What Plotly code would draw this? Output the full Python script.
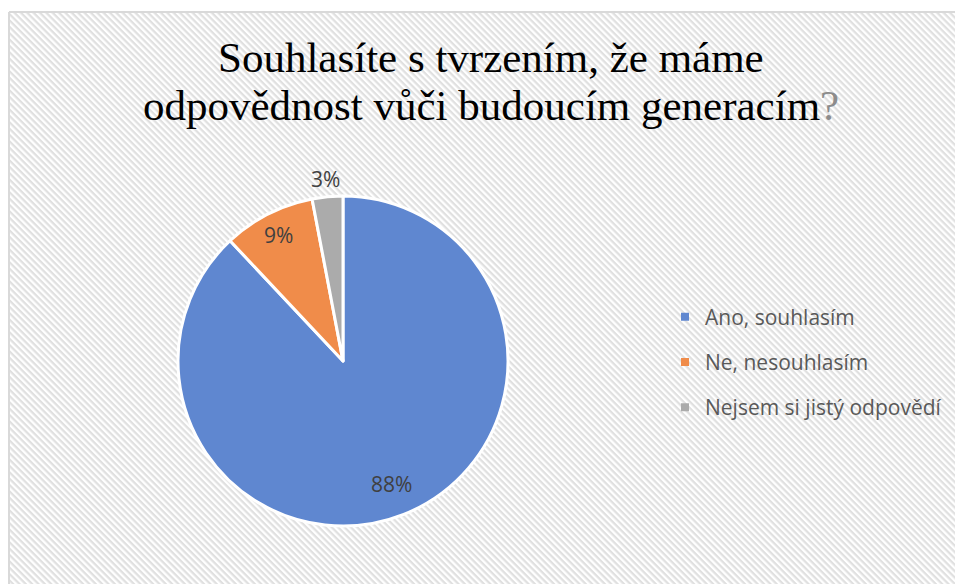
import base64
import math
import plotly.graph_objects as go

# Data
labels = ['Ano, souhlasím', 'Ne, nesouhlasím', 'Nejsem si jistý odpovědí']
values = [88, 9, 3]
colors = ['#5f87d0', '#f08c4a', '#ababab']

title_lines = ['Souhlasíte s tvrzením, že máme',
               'odpovědnost vůči budoucím generacím<span style="color:#8c8c8c">?</span>']

W, H = 955, 584
# framed chart area (runs off the right and bottom edge)
box_x0, box_y0 = 9, 12
box_w, box_h = W - box_x0, H - box_y0

# pie placement (pixels)
cx, cy, radius = 343, 361, 165
# where each percentage label sits, as a fraction of the radius
label_radius = [0.80, 0.86, 1.11]


def hatch_svg(width: int, height: int, step: float = 4.5, color: str = '#e0e0e0') -> str:
    '''
    Returns a base64 data uri with a diagonal hatch pattern.
    '''
    svg = (f'<svg xmlns="http://www.w3.org/2000/svg" width="{width}" height="{height}">'
           f'<defs><pattern id="h" width="{step}" height="{step}" patternUnits="userSpaceOnUse" '
           f'patternTransform="rotate(45)">'
           f'<rect width="{step}" height="{step}" fill="white"/>'
           f'<rect width="{step}" height="{step / 2}" fill="{color}"/></pattern></defs>'
           f'<rect width="100%" height="100%" fill="url(#h)"/></svg>')
    return 'data:image/svg+xml;base64,' + base64.b64encode(svg.encode()).decode()


# Pie trace
pie = go.Pie(labels=labels, values=values,
             sort=False, direction='clockwise', rotation=0,
             marker={'colors': colors, 'line': {'color': 'white', 'width': 3}},
             textinfo='none',
             domain={'x': [(cx - radius) / W, (cx + radius) / W],
                     'y': [1 - (cy + radius) / H, 1 - (cy - radius) / H]},
             showlegend=False,
             hoverinfo='label+percent')

# Legend entries (dummy traces so the items can be spaced out)
legend_traces = []
for i, (lab, col) in enumerate(zip(labels, colors)):
    legend_traces.append(go.Scatter(x=[None], y=[None], mode='markers', name=lab,
                                    legendgroup=str(i),
                                    marker={'symbol': 'square', 'size': 8, 'color': col}))

fig = go.Figure(data=[pie] + legend_traces)

# Title as two annotations (tighter line spacing than the title allows)
annots = []
for line, yc in zip(title_lines, [57, 106]):
    annots.append({'text': line, 'xref': 'paper', 'yref': 'paper',
                   'x': 491 / W, 'y': 1 - yc / H, 'xanchor': 'center', 'yanchor': 'middle',
                   'showarrow': False,
                   'font': {'family': 'Liberation Serif', 'size': 43, 'color': 'black'}})

# Percentage labels placed at the middle angle of each slice
total = sum(values)
cum = 0
for v, fr in zip(values, label_radius):
    theta = 2 * math.pi * (cum + v / 2) / total
    cum += v
    lx = cx + fr * radius * math.sin(theta)
    ly = cy - fr * radius * math.cos(theta)
    annots.append({'text': f'{round(100 * v / total)}%', 'xref': 'paper', 'yref': 'paper',
                   'x': lx / W, 'y': 1 - ly / H, 'xanchor': 'center', 'yanchor': 'middle',
                   'showarrow': False,
                   'font': {'family': 'Open Sans', 'size': 21, 'color': '#404040'}})

# Frame: left and top edges only, kept inside the figure
border = {'color': '#d9d9d9', 'width': 2}
shapes = [{'type': 'line', 'xref': 'paper', 'yref': 'paper', 'layer': 'below',
           'x0': box_x0 / W, 'x1': box_x0 / W, 'y0': 0, 'y1': 1 - box_y0 / H, 'line': border},
          {'type': 'line', 'xref': 'paper', 'yref': 'paper', 'layer': 'below',
           'x0': box_x0 / W, 'x1': 1, 'y0': 1 - box_y0 / H, 'y1': 1 - box_y0 / H, 'line': border}]

fig.update_layout(width=W, height=H,
                  margin={'l': 0, 'r': 0, 't': 0, 'b': 0},
                  paper_bgcolor='white', plot_bgcolor='rgba(0,0,0,0)',
                  xaxis={'visible': False}, yaxis={'visible': False},
                  annotations=annots,
                  legend={'x': 665 / W, 'xanchor': 'left', 'y': 1 - 362 / H, 'yanchor': 'middle',
                          'bgcolor': 'rgba(0,0,0,0)', 'tracegroupgap': 15,
                          'font': {'family': 'Open Sans', 'size': 21, 'color': '#595959'},
                          'itemwidth': 30},
                  images=[{'source': hatch_svg(box_w, box_h), 'xref': 'paper', 'yref': 'paper',
                           'x': box_x0 / W, 'y': 1 - box_y0 / H,
                           'sizex': box_w / W, 'sizey': box_h / H,
                           'xanchor': 'left', 'yanchor': 'top',
                           'sizing': 'stretch', 'layer': 'below'}],
                  shapes=shapes)

# drop the default page margin so the figure fills the window
fig.write_html('out.html', config={'displayModeBar': False},
               post_script="document.body.style.margin='0';document.body.style.overflow='hidden';")
